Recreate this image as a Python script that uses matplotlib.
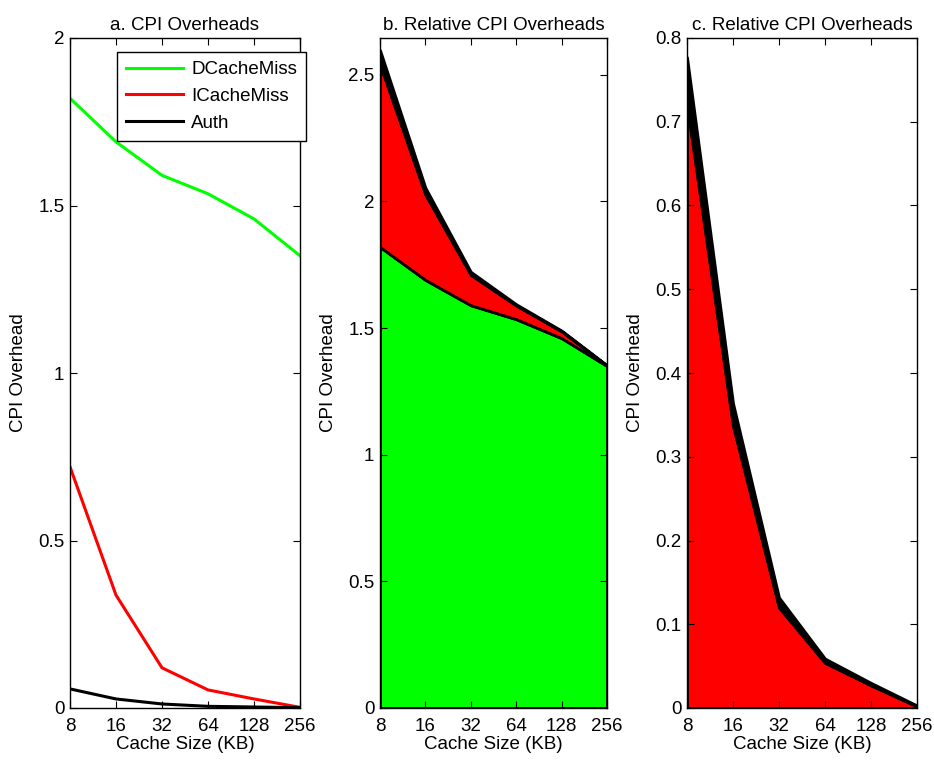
import matplotlib
matplotlib.use("Agg")
import matplotlib.pyplot as plt
import numpy as np

plt.rcParams['font.family'] = ['Liberation Sans', 'DejaVu Sans']

cache_sizes = ["8", "16", "32", "64", "128", "256"]
dcache_miss = [1.82, 1.69, 1.59, 1.535, 1.46, 1.35]
icache_miss = [0.72, 0.337, 0.12, 0.054, 0.027, 0.002]
auth = [0.057, 0.027, 0.012, 0.005, 0.003, 0.001]

titles = ["a. CPI Overheads", "b. Relative CPI Overheads", "c. Relative CPI Overheads"]
ylims = [2.0, 2.645, 0.8]
yticks = [np.arange(0, 2.01, 0.5), np.arange(0, 2.51, 0.5), np.arange(0, 0.801, 0.1)]
ytick_labels = [["0", "0.5", "1", "1.5", "2"],
                ["0", "0.5", "1", "1.5", "2", "2.5"],
                ["0", "0.1", "0.2", "0.3", "0.4", "0.5", "0.6", "0.7", "0.8"]]

fig = plt.figure(figsize=(9.34, 7.6), dpi=100)
W, H = 934, 760
boxes = [(70, 300), (380, 607), (687, 917)]
top, bottom = 38, 708
axes = []
for (l, r) in boxes:
    ax = fig.add_axes([l / W, 1 - bottom / H, (r - l) / W, (bottom - top) / H])
    axes.append(ax)

x = np.arange(1, len(cache_sizes) + 1)
fs = 13.5

# Panel a
ax = axes[0]
ax.plot(x, dcache_miss, color=(0, 1, 0), lw=2.2, label="DCacheMiss", solid_joinstyle='miter')
ax.plot(x, icache_miss, color=(1, 0, 0), lw=2.2, label="ICacheMiss", solid_joinstyle='miter')
ax.plot(x, auth, color='black', lw=2.2, label="Auth", solid_joinstyle='miter')
leg = ax.legend(loc='upper left', bbox_to_anchor=(117 / W, 1 - 52 / H), bbox_transform=fig.transFigure,
                fontsize=fs, frameon=True, fancybox=False, edgecolor='black', framealpha=1,
                borderpad=0.5, handlelength=3.0, handletextpad=0.45, labelspacing=0.5,
                borderaxespad=0)
leg.get_frame().set_linewidth(1.0)

# Panel b: stacked area
ax = axes[1]
s1 = np.array(dcache_miss)
s2 = s1 + np.array(icache_miss)
s3 = s2 + np.array(auth)
ax.fill_between(x, 0, s1, facecolor=(0, 1, 0), edgecolor='black', lw=2)
ax.fill_between(x, s1, s2, facecolor=(1, 0, 0), edgecolor='black', lw=2)
ax.fill_between(x, s2, s3, facecolor='black', edgecolor='black', lw=2)

# Panel c: stacked area without DCacheMiss
ax = axes[2]
c1 = np.array(icache_miss)
c2 = c1 + np.array(auth)
ax.fill_between(x, 0, c1, facecolor=(1, 0, 0), edgecolor='black', lw=2)
ax.fill_between(x, c1, c2, facecolor='black', edgecolor='black', lw=2)

for i, ax in enumerate(axes):
    ax.set_xlim(1, 6)
    ax.set_ylim(0, ylims[i])
    ax.set_xticks(x)
    ax.set_xticklabels(cache_sizes, fontsize=fs)
    ax.set_yticks(yticks[i])
    ax.set_yticklabels(ytick_labels[i], fontsize=fs)
    ax.tick_params(direction='in', length=5, width=0.8, top=True, right=True, pad=4)
    ax.tick_params(axis='x', pad=7)
    ax.set_title(titles[i], fontsize=fs, pad=6)
    ax.set_xlabel("Cache Size (KB)", fontsize=fs, labelpad=1)
    ax.set_ylabel("CPI Overhead", fontsize=fs, labelpad=8)
    for sp in ax.spines.values():
        sp.set_linewidth(1.0)
        sp.set_zorder(5)

fig.savefig("out.png", dpi=100)
